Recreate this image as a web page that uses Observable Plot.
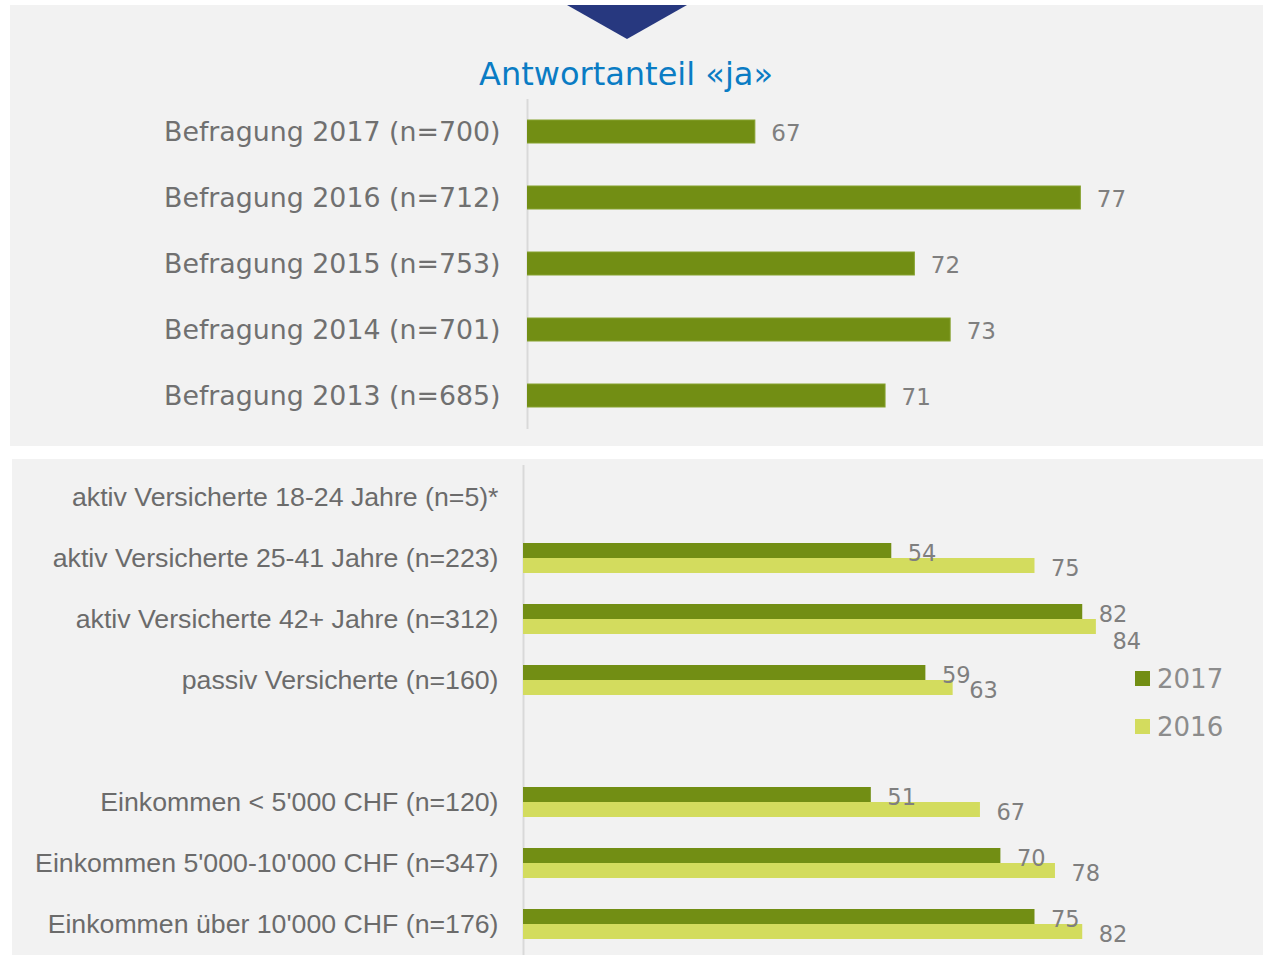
<!DOCTYPE html>
<html>
<head>
<meta charset="utf-8">
<script src="https://cdn.jsdelivr.net/npm/d3@7"></script>
<script src="https://cdn.jsdelivr.net/npm/@observablehq/plot@0.6"></script>
<style>
  html, body { margin: 0; padding: 0; background: #ffffff; overflow: hidden; }
  #root { position: relative; width: 1268px; height: 955px; overflow: hidden; }
  .panel { position: absolute; background: #f2f2f2; }
  .title { position: absolute; left: 0; top: 58px; width: 1252px; text-align: center;
           font-family: "DejaVu Sans", Verdana, sans-serif; font-size: 32px; line-height: 32px; color: #0a7cc4; }
  .chart { position: absolute; left: 0; }
  .legend { position: absolute; left: 1135px; font-family: "DejaVu Sans", Verdana, sans-serif; font-size: 26px; color: #8c8c8c; }
  .legend .item { position: absolute; left: 0; height: 30px; white-space: nowrap; }
  .legend .sw { position: absolute; left: 0; width: 15px; height: 15px; }
  .legend .lb { position: absolute; left: 22px; line-height: 26px; }
</style>
</head>
<body>
<div id="root">
  <div class="panel" style="left:10px; top:5px; width:1253px; height:441px;"></div>
  <div class="panel" style="left:12px; top:459px; width:1251px; height:496px;"></div>
  <svg style="position:absolute; left:0; top:0;" width="1268" height="45">
    <polygon points="567,5 687,5 627,39" fill="#27387f"></polygon>
  </svg>
  <div class="title">Antwortanteil «ja»</div>
  <div id="top" class="chart" style="top:91px;"></div>
  <div id="bottom" class="chart" style="top:454px;"></div>
  <div id="legend" class="legend" style="top:0;"></div>
</div>
<script>
// ---- data ----
const topCategories = [
  "Befragung 2017 (n=700)",
  "Befragung 2016 (n=712)",
  "Befragung 2015 (n=753)",
  "Befragung 2014 (n=701)",
  "Befragung 2013 (n=685)"
];
const topValues = [67, 77, 71.9, 73, 71];

const bottomCategories = [
  "aktiv Versicherte 18-24 Jahre (n=5)*",
  "aktiv Versicherte 25-41 Jahre (n=223)",
  "aktiv Versicherte 42+ Jahre (n=312)",
  "passiv Versicherte (n=160)",
  "",
  "Einkommen < 5'000 CHF (n=120)",
  "Einkommen 5'000-10'000 CHF (n=347)",
  "Einkommen über 10'000 CHF (n=176)"
];
const values2017 = [null, 54, 82, 59, null, 51, 70, 75];
const values2016 = [null, 75, 84, 63, null, 67, 78, 82];
const seriesNames = ["2017", "2016"];
const seriesColors = ["#728e14", "#d3dc5e"];
const topColor = "#728e14";

// ---- top chart ----
const topData = topCategories.map((c, i) => ({cat: c, value: topValues[i]}));
const topPlot = Plot.plot({
  width: 1268,
  height: 348,
  marginLeft: 527,
  marginRight: 90,
  marginTop: 8,
  marginBottom: 10,
  style: {background: "transparent", overflow: "visible"},
  x: {domain: [60, 80], axis: null},
  y: {domain: topCategories, paddingInner: 0.65, paddingOuter: 0.325, label: null},
  marks: [
    Plot.ruleX([60], {stroke: "#d9d9d9", strokeWidth: 2}),
    Plot.barX(topData, {x: "value", y: "cat", fill: topColor, stroke: "#86a22e", strokeWidth: 1, clip: true}),
    Plot.text(topData, {x: "value", y: "cat", text: d => String(Math.round(d.value)), dx: 16, dy: 2,
      textAnchor: "start", fill: "#7f7f7f", fontSize: 23, fontFamily: "DejaVu Sans"}),
    Plot.axisY({tickSize: 0, tickPadding: 27, fontSize: 26.8, fontFamily: "DejaVu Sans",
      color: "#707070", fill: "#707070", label: null})
  ]
});
document.getElementById("top").appendChild(topPlot);

// ---- bottom chart ----
const rows = bottomCategories.map((c, i) => ({cat: c, v17: values2017[i], v16: values2016[i]}));
// when the two labels of a row would collide, the lower one is pushed down
const collide = r => r.v17 != null && r.v16 != null && Math.abs(r.v16 - r.v17) < 3;
const d2017 = rows.filter(r => r.v17 != null).map(r => ({cat: r.cat, value: r.v17}));
const d2016 = rows.filter(r => r.v16 != null).map(r => ({cat: r.cat, value: r.v16, shift: collide(r) ? 12 : 0}));
const bottomPlot = Plot.plot({
  width: 1268,
  height: 502,
  marginLeft: 523,
  marginRight: 63,
  marginTop: 11,
  marginBottom: 0,
  style: {background: "transparent", overflow: "visible"},
  x: {domain: [0, 100], axis: null},
  y: {domain: bottomCategories, paddingInner: 0.511, paddingOuter: 0.2555, label: null},
  marks: [
    Plot.ruleX([0], {stroke: "#d9d9d9", strokeWidth: 2}),
    Plot.barX(d2017, {x: "value", y: "cat", fill: seriesColors[0], insetBottom: 15}),
    Plot.barX(d2016, {x: "value", y: "cat", fill: seriesColors[1], insetTop: 15}),
    Plot.text(d2017, {x: "value", y: "cat", text: d => String(d.value), dx: 16, dy: -5,
      textAnchor: "start", fill: "#7f7f7f", fontSize: 22.5, fontFamily: "DejaVu Sans"}),
    Plot.text(d2016.filter(d => !d.shift), {x: "value", y: "cat", text: d => String(d.value), dx: 16, dy: 10,
      textAnchor: "start", fill: "#7f7f7f", fontSize: 22.5, fontFamily: "DejaVu Sans"}),
    Plot.text(d2016.filter(d => d.shift), {x: "value", y: "cat", text: d => String(d.value), dx: 16, dy: 22,
      textAnchor: "start", fill: "#7f7f7f", fontSize: 22.5, fontFamily: "DejaVu Sans"}),
    Plot.axisY({tickSize: 0, tickPadding: 25, fontSize: 26.7, fontFamily: "Liberation Sans, Arial, sans-serif",
      color: "#6b6b6b", fill: "#6b6b6b", label: null})
  ]
});
document.getElementById("bottom").appendChild(bottomPlot);

// ---- legend ----
const legend = document.getElementById("legend");
const legendTops = [671, 719];
seriesNames.forEach((name, i) => {
  const item = document.createElement("div");
  item.className = "item";
  item.style.top = legendTops[i] + "px";
  const sw = document.createElement("div");
  sw.className = "sw";
  sw.style.background = seriesColors[i];
  sw.style.top = "0px";
  const lb = document.createElement("div");
  lb.className = "lb";
  lb.style.top = "-5px";
  lb.textContent = name;
  item.appendChild(sw);
  item.appendChild(lb);
  legend.appendChild(item);
});
</script>
</body>
</html>
